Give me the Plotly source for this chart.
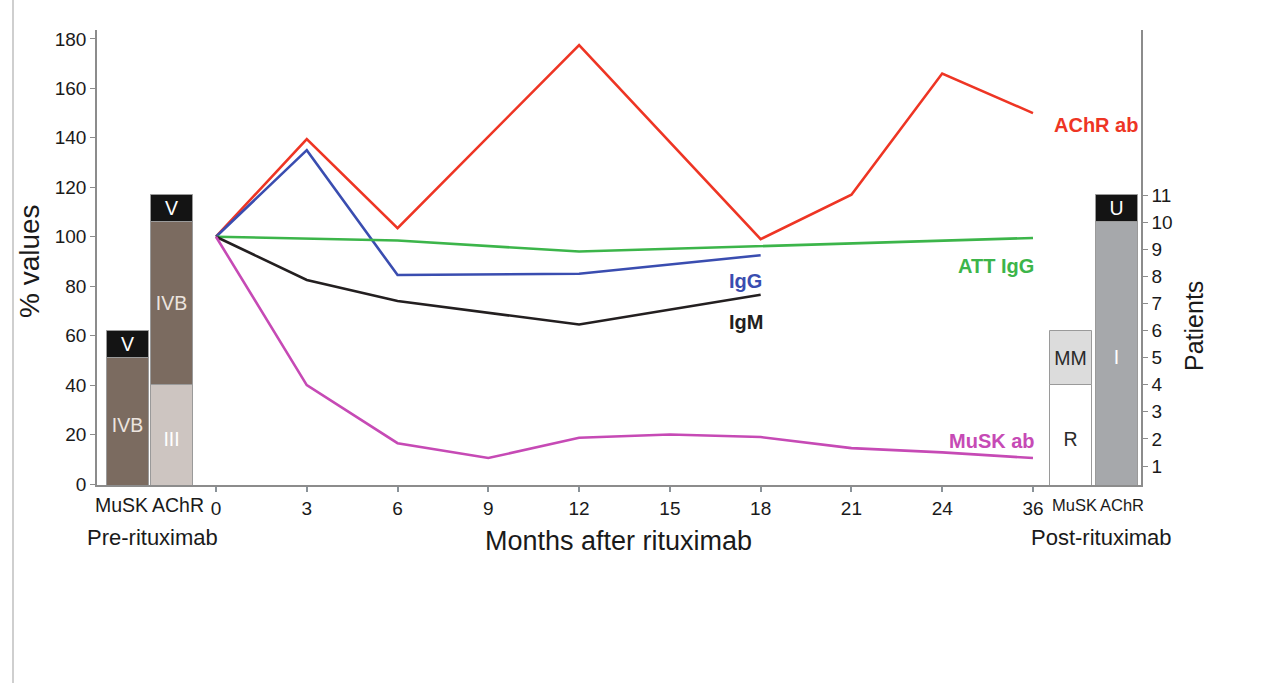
import plotly.graph_objects as go

# ---------------- data ----------------
months = ["0", "3", "6", "9", "12", "15", "18", "21", "24", "36"]

achr_ab = [100, 139.5, 103.5, None, 177.5, None, 99, 117, 166, 150]
igg     = [100, 135, 84.5, None, 85, None, 92.5, None, None, None]
att_igg = [100, None, 98.5, None, 94, None, None, None, None, 99.5]
igm     = [100, 82.5, 74, None, 64.5, None, 76.5, None, None, None]
musk_ab = [100, 40, 16.5, 10.5, 18.7, 20, 19, 14.5, 12.8, 10.5]

# patients per bar (stack segments bottom -> top)
pre_musk_labels = ["IVB", "V"]
pre_musk_counts = [5, 1]
pre_achr_labels = ["III", "IVB", "V"]
pre_achr_counts = [4, 6, 1]
post_musk_labels = ["R", "MM"]
post_musk_counts = [4, 2]
post_achr_labels = ["I", "U"]
post_achr_counts = [10, 1]

bar_groups = ["MuSK", "AChR"]
left_ticks = [0, 20, 40, 60, 80, 100, 120, 140, 160, 180]
right_ticks = list(range(1, 12))

# ---------------- layout helpers ----------------
W, H = 1276, 683
L, R, T, B = 97, 1141, 30, 485
PW, PH = R - L, B - T

def px(xp):
    return (xp - L) / PW

def py(yp):
    return (B - yp) / PH

month_x = list(range(len(months)))
xr = [-1.311, 10.19]
bar_w = 0.463
pos_pre_musk, pos_pre_achr = -0.970, -0.485
pos_post_musk, pos_post_achr = 9.42, 9.925

fig = go.Figure()

FONT = "Liberation Sans, Arial, sans-serif"

# ---------------- bars ----------------
seg_style = {
    "IVB": ("#7b6b60", "#ece4df"),
    "V": ("#141414", "#ffffff"),
    "III": ("#cdc5c1", "#ffffff"),
    "R": ("#ffffff", "#2a2a2a"),
    "MM": ("#dcdcdc", "#2a2a2a"),
    "I": ("#a6a8ab", "#ffffff"),
    "U": ("#141414", "#ffffff"),
}

def add_stack(pos, labels, counts):
    base = 0
    for lab, c in zip(labels, counts):
        fill, tcol = seg_style[lab]
        fig.add_trace(go.Bar(
            x=[pos], y=[c], base=[base], width=bar_w, yaxis="y2",
            marker=dict(color=fill, line=dict(color="#9a9a9a", width=1)),
            text=[lab], textposition="inside", insidetextanchor="middle",
            textangle=0, constraintext="none",
            textfont=dict(size=19.5, color=tcol, family=FONT),
            showlegend=False, hoverinfo="skip",
        ))
        base += c

add_stack(pos_pre_musk, pre_musk_labels, pre_musk_counts)
add_stack(pos_pre_achr, pre_achr_labels, pre_achr_counts)
add_stack(pos_post_musk, post_musk_labels, post_musk_counts)
add_stack(pos_post_achr, post_achr_labels, post_achr_counts)

# ---------------- lines ----------------
series = [
    ("AChR ab", achr_ab, "#ee3524"),
    ("IgG", igg, "#3a4db0"),
    ("ATT IgG", att_igg, "#3cb54a"),
    ("IgM", igm, "#231f20"),
    ("MuSK ab", musk_ab, "#c64ab5"),
]
for name, vals, col in series:
    fig.add_trace(go.Scatter(
        x=month_x, y=vals, mode="lines", name=name, connectgaps=True,
        line=dict(color=col, width=2.6), showlegend=False,
    ))

# ---------------- annotations ----------------
ann = []
line_labels = [
    ("AChR ab", 1096, 125, "#ee3524"),
    ("ATT IgG", 996, 266, "#3cb54a"),
    ("IgG", 745, 281, "#3a4db0"),
    ("IgM", 746, 322, "#231f20"),
    ("MuSK ab", 992, 441, "#c64ab5"),
]
for txt, xp, yp, col in line_labels:
    ann.append(dict(text="<b>%s</b>" % txt, x=px(xp), y=py(yp), xref="paper", yref="paper",
                    showarrow=False, xanchor="center", yanchor="middle",
                    font=dict(size=20, color=col, family=FONT)))

for lab, xp in zip(bar_groups, [121, 178]):
    ann.append(dict(text=lab, x=px(xp), y=py(505), xref="paper", yref="paper",
                    showarrow=False, xanchor="center", yanchor="middle",
                    font=dict(size=19.5, color="#1a1a1a", family=FONT)))
for lab, xp in zip(bar_groups, [1074, 1122]):
    ann.append(dict(text=lab, x=px(xp), y=py(505), xref="paper", yref="paper",
                    showarrow=False, xanchor="center", yanchor="middle",
                    font=dict(size=16.5, color="#1a1a1a", family=FONT)))

ann.append(dict(text="Pre-rituximab", x=px(152), y=py(537), xref="paper", yref="paper",
                showarrow=False, xanchor="center", yanchor="middle",
                font=dict(size=22, color="#1a1a1a", family=FONT)))
ann.append(dict(text="Post-rituximab", x=px(1101), y=py(537), xref="paper", yref="paper",
                showarrow=False, xanchor="center", yanchor="middle",
                font=dict(size=22, color="#1a1a1a", family=FONT)))
ann.append(dict(text="Months after rituximab", x=px(618), y=py(541), xref="paper", yref="paper",
                showarrow=False, xanchor="center", yanchor="middle",
                font=dict(size=27, color="#1a1a1a", family=FONT)))
ann.append(dict(text="% values", x=px(29), y=py(261), xref="paper", yref="paper",
                showarrow=False, xanchor="center", yanchor="middle", textangle=-90,
                font=dict(size=28, color="#1a1a1a", family=FONT)))
ann.append(dict(text="Patients", x=px(1194), y=py(326), xref="paper", yref="paper",
                showarrow=False, xanchor="center", yanchor="middle", textangle=-90,
                font=dict(size=25, color="#1a1a1a", family=FONT)))

shapes = [dict(type="line", xref="paper", yref="paper", x0=px(13), x1=px(13),
               y0=py(683), y1=py(0), line=dict(color="#cfcfcf", width=2))]

fig.update_layout(
    width=W, height=H, autosize=False,
    margin=dict(l=L, r=W - R, t=T, b=H - B, pad=0),
    paper_bgcolor="white", plot_bgcolor="white",
    barmode="overlay", bargap=0,
    font=dict(family=FONT, size=19, color="#1a1a1a"),
    annotations=ann, shapes=shapes,
    xaxis=dict(range=xr, tickmode="array", tickvals=month_x, ticktext=months,
               ticks="outside", ticklen=5, tickwidth=2, tickcolor="#8a9298",
               showline=True, linecolor="#8c8c8c", linewidth=1.5,
               showgrid=False, zeroline=False, tickfont=dict(size=19, family=FONT)),
    yaxis=dict(range=[-0.4, 183.6], tickmode="array", tickvals=left_ticks,
               ticks="outside", ticklen=5, tickcolor="#8c8c8c",
               showline=True, linecolor="#8c8c8c", linewidth=1.5,
               showgrid=False, zeroline=False, tickfont=dict(size=19, family=FONT)),
    yaxis2=dict(overlaying="y", side="right", range=[0.299, 17.09], tickmode="array",
                tickvals=right_ticks, ticks="outside", ticklen=5, tickcolor="#8c8c8c",
                showline=True, linecolor="#8c8c8c", linewidth=1.5,
                showgrid=False, zeroline=False, tickfont=dict(size=19, family=FONT)),
)

fig.write_html("out.html")
